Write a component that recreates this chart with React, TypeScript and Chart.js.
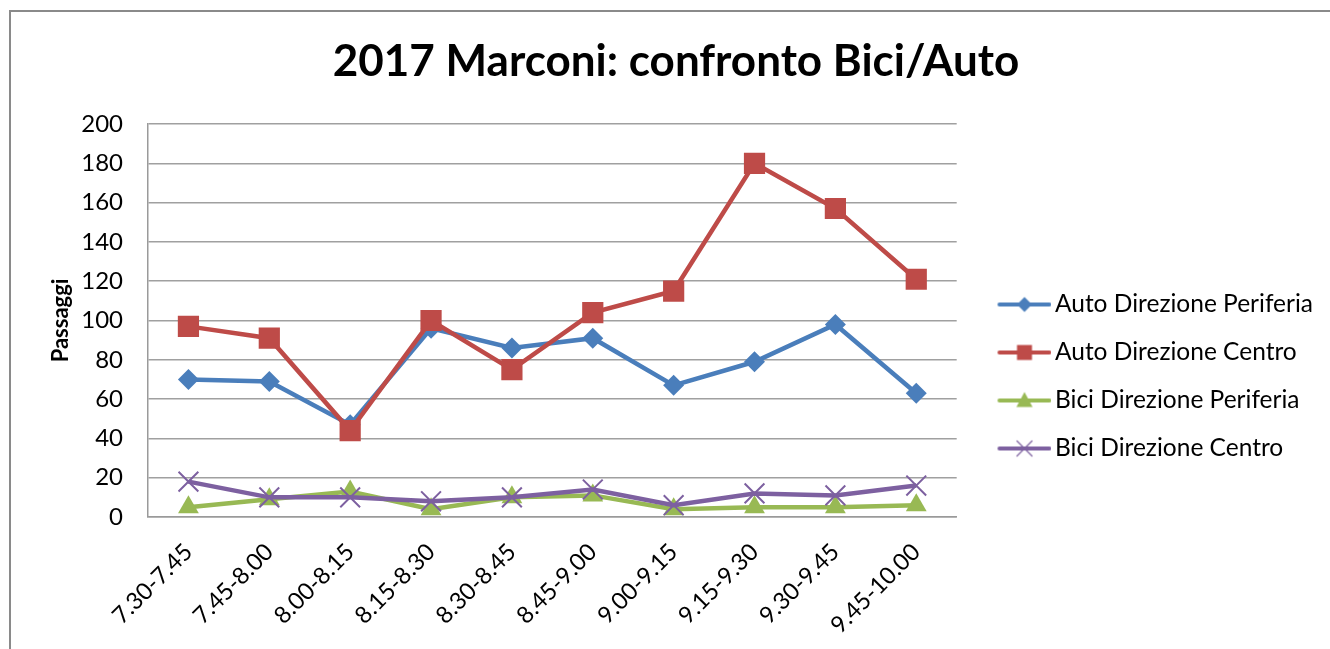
import React, { useEffect, useRef } from "react";
import { Chart, registerables } from "chart.js";

Chart.register(...registerables);

const categories = [
  "7.30-7.45",
  "7.45-8.00",
  "8.00-8.15",
  "8.15-8.30",
  "8.30-8.45",
  "8.45-9.00",
  "9.00-9.15",
  "9.15-9.30",
  "9.30-9.45",
  "9.45-10.00",
];
const autoPeriferia = [70, 69, 47, 96, 86, 91, 67, 79, 98, 63];
const autoCentro = [97, 91, 44, 100, 75, 104, 115, 180, 157, 121];
const biciPeriferia = [5, 9, 13, 4, 10, 11, 4, 5, 5, 6];
const biciCentro = [18, 10, 10, 8, 10, 14, 6, 12, 11, 16];
const seriesNames = [
  "Auto Direzione Periferia",
  "Auto Direzione Centro",
  "Bici Direzione Periferia",
  "Bici Direzione Centro",
];
const seriesColors = ["#4A7EBB", "#BE4B48", "#98B954", "#7D60A0"];
const titleText = "2017 Marconi: confronto Bici/Auto";
const yTitle = "Passaggi";

const FONT = "Lato, 'Noto Sans', sans-serif";

function makeIcon(color: string, kind: string): HTMLCanvasElement {
  const c = document.createElement("canvas");
  c.width = 80;
  c.height = 30;
  const ctx = c.getContext("2d")!;
  const cy = 15;
  const x0 = 26;
  const x1 = 80;
  const cx = (x0 + x1) / 2;
  ctx.strokeStyle = color;
  ctx.fillStyle = color;
  ctx.lineWidth = 4;
  ctx.lineCap = "round";
  ctx.beginPath();
  ctx.moveTo(x0 + 2, cy);
  ctx.lineTo(x1 - 2, cy);
  ctx.stroke();
  ctx.beginPath();
  if (kind === "diamond") {
    const r = 7.5;
    ctx.moveTo(cx, cy - r);
    ctx.lineTo(cx + r, cy);
    ctx.lineTo(cx, cy + r);
    ctx.lineTo(cx - r, cy);
    ctx.closePath();
    ctx.fill();
  } else if (kind === "square") {
    const s = 7.5;
    ctx.rect(cx - s, cy - s, 2 * s, 2 * s);
    ctx.fill();
  } else if (kind === "triangle") {
    const r = 8.5;
    ctx.moveTo(cx, cy - r);
    ctx.lineTo(cx + r * 0.95, cy + r * 0.75);
    ctx.lineTo(cx - r * 0.95, cy + r * 0.75);
    ctx.closePath();
    ctx.fill();
  } else {
    const r = 7.5;
    ctx.lineWidth = 1.2;
    ctx.moveTo(cx - r, cy - r);
    ctx.lineTo(cx + r, cy + r);
    ctx.moveTo(cx + r, cy - r);
    ctx.lineTo(cx - r, cy + r);
    ctx.stroke();
  }
  return c;
}

const borderPlugin = {
  id: "outerBorder",
  beforeDraw(chart: any) {
    const ctx = chart.ctx;
    ctx.save();
    ctx.fillStyle = "#ffffff";
    ctx.fillRect(0, 0, chart.width, chart.height);
    ctx.strokeStyle = "#8a8a8a";
    ctx.lineWidth = 2;
    ctx.beginPath();
    ctx.moveTo(10, chart.height + 5);
    ctx.lineTo(10, 11);
    ctx.lineTo(chart.width + 5, 11);
    ctx.stroke();
    ctx.restore();
  },
};

export default function App() {
  const ref = useRef<HTMLCanvasElement>(null);
  useEffect(() => {
    const icons = [
      makeIcon(seriesColors[0], "diamond"),
      makeIcon(seriesColors[1], "square"),
      makeIcon(seriesColors[2], "triangle"),
      makeIcon(seriesColors[3], "cross"),
    ];
    const values = [autoPeriferia, autoCentro, biciPeriferia, biciCentro];
    const styles = ["rectRot", "rect", "triangle", "crossRot"];
    const radii = [10.5, 15, 12, 14];
    const chart = new Chart(ref.current!, {
      type: "line",
      data: {
        labels: categories,
        datasets: values.map((v, i) => ({
          label: seriesNames[i],
          data: v,
          borderColor: seriesColors[i],
          backgroundColor: seriesColors[i],
          borderWidth: 4.5,
          pointStyle: styles[i] as any,
          pointRadius: radii[i],
          pointBorderWidth: i === 3 ? 2 : 0,
          pointBorderColor: seriesColors[i],
          pointBackgroundColor: seriesColors[i],
          tension: 0,
          order: 4 - i,
        })),
      },
      options: {
        responsive: false,
        animation: false,
        layout: { padding: { left: 29, right: 7, top: 0, bottom: 0 } },
        plugins: {
          title: {
            display: true,
            text: titleText,
            color: "#000000",
            font: { family: FONT, size: 44, weight: "bold" },
            padding: { top: 35.6, bottom: 35.6 },
          },
          legend: {
            position: "right",
            align: "start",
            maxWidth: 400,
            title: {
              display: true,
              text: "",
              font: { family: FONT, size: 10 },
              padding: { top: 256.75, bottom: 0 },
            },
            labels: {
              usePointStyle: true,
              pointStyleWidth: 62.5,
              color: "#000000",
              font: { family: FONT, size: 24.5 },
              padding: 23.5,
              generateLabels: (ch: any) => {
                const items = Chart.defaults.plugins.legend.labels.generateLabels(ch);
                items.sort((a: any, b: any) => a.datasetIndex - b.datasetIndex);
                return items.map((it: any) => ({
                  ...it,
                  pointStyle: icons[it.datasetIndex],
                }));
              },
            },
          },
          tooltip: { enabled: false },
        },
        scales: {
          x: {
            offset: true,
            grid: { display: false, drawTicks: false, tickLength: 0 },
            border: { display: true, color: "#9a9a9a", width: 1.5 },
            ticks: {
              color: "#000000",
              font: { family: FONT, size: 23.5 },
              maxRotation: 45,
              minRotation: 45,
              padding: 21,
              autoSkip: false,
            },
            afterFit: (s: any) => {
              s.height = 132;
            },
          },
          y: {
            min: 0,
            max: 200,
            grid: { color: "#a0a0a0", lineWidth: 1.5, drawTicks: false, tickLength: 0 },
            border: { display: true, color: "#9a9a9a", width: 1.5 },
            ticks: {
              stepSize: 20,
              color: "#000000",
              font: { family: FONT, size: 24 },
              padding: 25,
            },
            title: {
              display: true,
              text: yTitle,
              color: "#000000",
              font: { family: FONT, size: 22, weight: "bold" },
              padding: { top: 18.8, bottom: 0 },
            },
            afterFit: (s: any) => {
              s.width = 119;
            },
          },
        },
      },
      plugins: [borderPlugin],
    });
    return () => chart.destroy();
  }, []);
  return (
    <canvas
      ref={ref}
      width={1330}
      height={649}
      style={{ position: "fixed", left: 0, top: 0, width: 1330, height: 649 }}
    />
  );
}
